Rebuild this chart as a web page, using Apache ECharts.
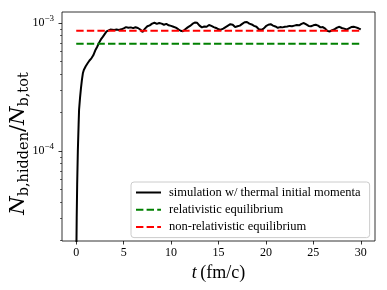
<!DOCTYPE html>
<html>
<head>
<meta charset="utf-8">
<script src="https://cdn.jsdelivr.net/npm/echarts@6/dist/echarts.min.js"></script>
<style>html,body{margin:0;padding:0;background:#fff}#c{width:387px;height:290px}</style>
</head>
<body>
<div id="c"></div>
<script>
// ---- data ----
var seriesNames = ['simulation w/ thermal initial momenta', 'relativistic equilibrium', 'non-relativistic equilibrium'];
var simTimes = [0, 0.05, 0.1, 0.17, 0.25, 0.3, 0.4, 0.5, 0.6, 0.7, 0.8, 1.0, 1.2, 1.4, 1.6, 1.8, 2.0, 2.2, 2.4, 2.6, 2.8, 3.0, 3.2, 3.4, 3.6,
  3.75, 4.0, 4.25, 4.5, 4.75, 5.0, 5.25, 5.5, 5.75, 6.0, 6.25, 6.5, 6.75, 7.0, 7.25, 7.5, 7.75, 8.0, 8.25, 8.5, 8.75, 9.0, 9.25, 9.5, 9.75,
  10.0, 10.25, 10.5, 10.75, 11.0, 11.25, 11.5, 11.75, 12.0, 12.25, 12.5, 12.75, 13.0, 13.25, 13.5, 13.75, 14.0, 14.25, 14.5, 14.75,
  15.0, 15.25, 15.5, 15.75, 16.0, 16.25, 16.5, 16.75, 17.0, 17.25, 17.5, 17.75, 18.0, 18.25, 18.5, 18.75, 19.0, 19.25, 19.5, 19.75,
  20.0, 20.25, 20.5, 20.75, 21.0, 21.25, 21.5, 21.75, 22.0, 22.25, 22.5, 22.75, 23.0, 23.25, 23.5, 23.75, 24.0, 24.25, 24.5, 24.75,
  25.0, 25.25, 25.5, 25.75, 26.0, 26.25, 26.5, 26.75, 27.0, 27.25, 27.5, 27.75, 28.0, 28.25, 28.5, 28.75, 29.0, 29.25, 29.5, 29.75, 30.0];
var simValues = [1.2e-5, 3.0e-5, 5.5e-5, 1.0e-4, 1.6e-4, 2.1e-4, 2.6e-4, 3.1e-4, 3.6e-4, 4.05e-4, 4.3e-4, 4.6e-4, 4.85e-4, 5.1e-4, 5.3e-4, 5.6e-4, 6.1e-4, 6.5e-4, 7.0e-4, 7.45e-4, 7.8e-4, 8.2e-4, 8.6e-4, 8.8e-4, 8.9e-4,
  8.87e-4, 8.82e-4, 8.90e-4, 8.84e-4, 8.93e-4, 9.10e-4, 9.30e-4, 9.18e-4, 9.25e-4, 9.12e-4, 9.28e-4, 9.15e-4, 8.90e-4, 8.52e-4, 9.05e-4, 9.45e-4, 9.60e-4, 9.90e-4, 1.005e-3, 9.85e-4, 1.0e-3, 9.90e-4, 9.70e-4, 9.85e-4, 9.60e-4,
  9.50e-4, 9.35e-4, 9.20e-4, 8.95e-4, 8.70e-4, 8.62e-4, 8.95e-4, 9.25e-4, 9.50e-4, 9.85e-4, 1.01e-3, 1.005e-3, 9.55e-4, 9.25e-4, 9.40e-4, 9.35e-4, 9.65e-4, 9.50e-4, 9.30e-4, 9.15e-4,
  8.93e-4, 8.88e-4, 9.05e-4, 9.30e-4, 9.55e-4, 9.80e-4, 9.70e-4, 9.30e-4, 9.45e-4, 9.55e-4, 9.85e-4, 1.015e-3, 1.02e-3, 9.90e-4, 9.75e-4, 9.50e-4, 9.35e-4, 8.95e-4, 8.85e-4, 9.05e-4,
  9.45e-4, 9.70e-4, 9.80e-4, 9.55e-4, 9.40e-4, 9.18e-4, 9.30e-4, 9.25e-4, 9.35e-4, 9.40e-4, 9.50e-4, 9.45e-4, 9.55e-4, 9.65e-4, 9.60e-4, 9.85e-4, 1.0e-3, 9.75e-4, 9.50e-4, 9.45e-4,
  9.60e-4, 9.70e-4, 9.55e-4, 9.25e-4, 9.30e-4, 9.05e-4, 8.65e-4, 8.60e-4, 8.80e-4, 8.95e-4, 9.20e-4, 9.35e-4, 9.15e-4, 9.05e-4, 8.90e-4, 9.10e-4, 9.30e-4, 9.35e-4, 9.25e-4, 9.10e-4, 8.92e-4];
var eqTimes = [0, 30];
var relEq = 6.9e-4;
var nonRelEq = 8.7e-4;
var xTicks = [0, 5, 10, 15, 20, 25, 30];
var yMajorTicks = [1e-4, 1e-3];
var yMinorTicks = [2e-5, 3e-5, 4e-5, 5e-5, 6e-5, 7e-5, 8e-5, 9e-5, 2e-4, 3e-4, 4e-4, 5e-4, 6e-4, 7e-4, 8e-4, 9e-4];
var xRange = [-1.5, 31.5];
var yRange = [1.98e-5, 1.22e-3];

var serif = 'Liberation Serif';
var wideSerif = 'DejaVu Serif';
function zip(xs, ys) { return xs.map(function (x, i) { return [x, ys[i]]; }); }

var chart = echarts.init(document.getElementById('c'), null, {renderer: 'canvas'});
var yBase = {
  type: 'log', logBase: 10, min: yRange[0], max: yRange[1], position: 'left',
  axisLine: {show: false, onZero: false}, splitLine: {show: false}, minorTick: {show: false}, minorSplitLine: {show: false}
};
chart.setOption({
  animation: false,
  backgroundColor: '#fff',
  grid: {left: 62, right: 12, top: 12, bottom: 49, containLabel: false, outerBoundsMode: 'none',
    show: true, borderColor: '#000', borderWidth: 0.8, backgroundColor: 'transparent'},
  legend: {
    orient: 'vertical', left: 131, top: 182,
    padding: [4, 9, 4, 4], itemGap: 4.3, itemWidth: 25, itemHeight: 12,
    backgroundColor: 'rgba(255,255,255,0.8)', borderColor: '#cccccc', borderWidth: 1, borderRadius: 3,
    itemStyle: {opacity: 0},
    textStyle: {fontFamily: serif, fontSize: 12.5, lineHeight: 12, color: '#000', padding: [0, 0, 0, 3]},
    data: seriesNames
  },
  xAxis: {
    type: 'value', min: xRange[0], max: xRange[1],
    axisLine: {show: false, onZero: false}, splitLine: {show: false},
    axisTick: {show: true, customValues: xTicks, length: 3.5, lineStyle: {color: '#000', width: 0.8}},
    axisLabel: {customValues: xTicks, fontFamily: serif, fontSize: 12, color: '#000', margin: 6},
    name: '{i|t} {n|(fm/c)}', nameLocation: 'middle', nameGap: 21,
    nameTextStyle: {rich: {i: {fontFamily: serif, fontStyle: 'italic', fontSize: 18, color: '#000'}, n: {fontFamily: serif, fontSize: 18, color: '#000'}}}
  },
  yAxis: [
    Object.assign({}, yBase, {
      axisTick: {show: true, customValues: yMajorTicks, length: 3.5, lineStyle: {color: '#000', width: 0.8}},
      axisLabel: {
        customValues: yMajorTicks, margin: 8,
        formatter: function (v) { var e = Math.round(Math.log10(v)); return '{b|10}{e|\u2212' + Math.abs(e) + '}'; },
        rich: {b: {fontFamily: serif, fontSize: 12, color: '#000', lineHeight: 18}, e: {fontFamily: serif, fontSize: 9, color: '#000', lineHeight: 10, verticalAlign: 'top'}}
      },
      name: '{i|N}{s|b,hidden}{n|/}{i|N}{s|b,tot}', nameLocation: 'middle', nameRotate: 90, nameGap: 30, nameMoveOverlap: false,
      nameTextStyle: {padding: [0, 34, 0, 0], rich: {
        i: {fontFamily: wideSerif, fontStyle: 'italic', fontSize: 21, color: '#000', lineHeight: 26},
        s: {fontFamily: wideSerif, fontSize: 14.5, color: '#000', lineHeight: 15, verticalAlign: 'bottom'},
        n: {fontFamily: wideSerif, fontSize: 21, color: '#000', lineHeight: 26}
      }}
    }),
    Object.assign({}, yBase, {
      axisTick: {show: true, customValues: yMinorTicks, length: 2, lineStyle: {color: '#000', width: 0.6}},
      axisLabel: {show: false}
    })
  ],
  series: [
    {name: seriesNames[0], type: 'line', data: zip(simTimes, simValues), showSymbol: false, symbol: 'none', clip: true,
      lineStyle: {color: '#000', width: 2}, itemStyle: {color: '#000'}},
    {name: seriesNames[1], type: 'line', data: zip(eqTimes, [relEq, relEq]), showSymbol: false, symbol: 'none',
      lineStyle: {color: '#008000', width: 2, type: [7.4, 3.2]}, itemStyle: {color: '#008000'}},
    {name: seriesNames[2], type: 'line', data: zip(eqTimes, [nonRelEq, nonRelEq]), showSymbol: false, symbol: 'none',
      lineStyle: {color: '#ff0000', width: 2, type: [7.4, 3.2]}, itemStyle: {color: '#ff0000'}}
  ]
});
</script>
</body>
</html>
